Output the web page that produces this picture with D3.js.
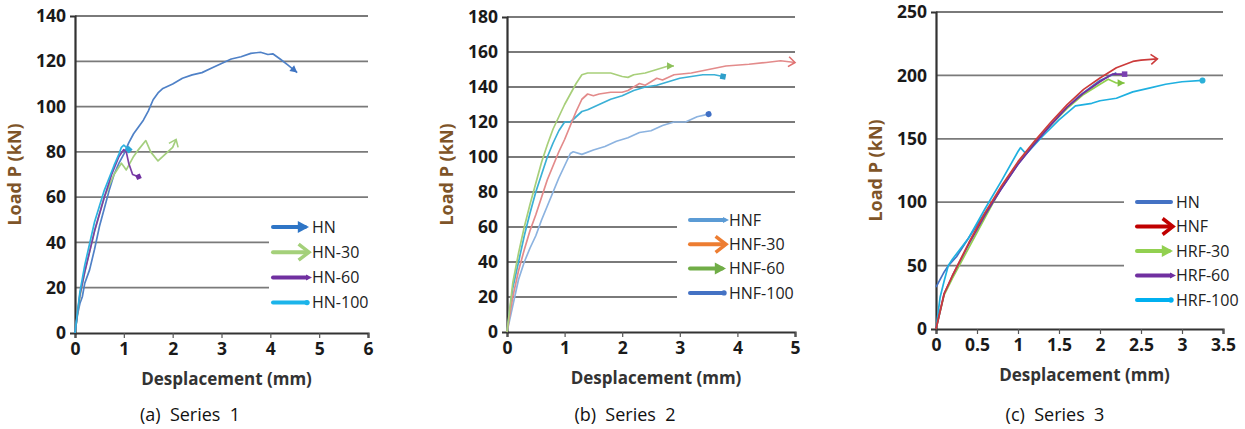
<!DOCTYPE html>
<html>
<head>
<meta charset="utf-8">
<script src="https://cdn.jsdelivr.net/npm/d3@7"></script>
<style>
  body { margin: 0; background: #fff; }
  svg text { font-family: "Open Sans", "DejaVu Sans", sans-serif; }
</style>
</head>
<body>
<svg id="canvas" width="1245" height="429"></svg>
<script>
// ---- data: [displacement mm, load kN] ----
let hn1 = [[0,0],[0.05,8],[0.1,13],[0.15,16],[0.2,22],[0.3,28],[0.4,37],[0.5,47],[0.6,55],[0.7,63],[0.8,70],[0.9,75],[1.0,79],[1.1,84],[1.2,88],[1.3,91],[1.4,94],[1.5,98],[1.6,103],[1.7,106],[1.8,108],[2.0,110],[2.2,112.5],[2.4,114],[2.6,115],[2.8,117],[3.0,119],[3.2,121],[3.4,122],[3.6,123.5],[3.8,124],[3.95,123],[4.05,123.3],[4.2,121],[4.35,118.5],[4.55,115]];
let hn30 = [[0,0],[0.1,16],[0.2,27],[0.4,45],[0.6,60],[0.8,70],[0.95,75],[1.0,73.5],[1.05,72],[1.2,78],[1.3,81],[1.45,85],[1.55,80],[1.7,76],[1.85,79],[2.0,82],[2.07,85.5]];
let hn60 = [[0,0],[0.1,17],[0.2,27],[0.4,45],[0.6,60],[0.75,70],[0.9,78],[1.0,81],[1.05,80],[1.1,75],[1.18,70],[1.3,69]];
let hn100 = [[0,0],[0.1,18],[0.2,30],[0.4,49],[0.6,63],[0.8,74],[0.9,79],[0.95,82],[1.0,83],[1.05,82],[1.1,81]];

let hnf = [[0,0],[0.1,25],[0.2,40],[0.3,55],[0.4,68],[0.5,80],[0.6,90],[0.7,100],[0.8,108],[0.9,115],[1.0,120],[1.1,120],[1.2,123],[1.3,126],[1.4,127],[1.6,130],[1.8,133],[2.0,135],[2.2,138],[2.4,140],[2.6,141],[2.8,143],[3.0,145],[3.2,146],[3.4,147],[3.6,147],[3.75,146]];
let hnf30 = [[0,0],[0.1,20],[0.2,35],[0.3,47],[0.4,58],[0.5,67],[0.6,77],[0.7,87],[0.8,95],[0.9,103],[1.0,110],[1.1,118],[1.2,126],[1.3,133],[1.4,136],[1.5,135],[1.6,136],[1.8,137],[2.0,137],[2.1,138],[2.2,140],[2.3,142],[2.4,141],[2.6,145],[2.7,144],[2.9,147],[3.2,148],[3.5,150],[3.8,152],[4.2,153],[4.5,154],[4.75,155],[5.0,154]];
let hnf60 = [[0,0],[0.1,28],[0.2,45],[0.3,60],[0.4,73],[0.5,85],[0.6,97],[0.7,107],[0.8,116],[0.9,123],[1.0,130],[1.1,136],[1.2,142],[1.3,147],[1.4,148],[1.6,148],[1.8,148],[2.0,146],[2.1,145.5],[2.2,147],[2.4,148],[2.6,150],[2.8,152],[2.9,152]];
let hnf100 = [[0,0],[0.1,15],[0.2,30],[0.3,40],[0.4,48],[0.5,55],[0.6,64],[0.7,72],[0.8,80],[0.9,88],[1.0,95],[1.1,102],[1.15,103],[1.3,101.5],[1.5,104],[1.7,106],[1.9,109],[2.1,111],[2.3,114],[2.5,115],[2.7,118],[2.9,120],[3.1,120],[3.3,123],[3.5,124.5]];

let hn3 = [[0,33],[0.1,45],[0.15,50],[0.25,57],[0.5,82],[0.75,106],[1.0,130],[1.25,150],[1.5,168],[1.75,184],[2.0,196],[2.2,202]];
let hnf3 = [[0,0],[0.1,28],[0.2,42],[0.4,68],[0.6,92],[0.8,113],[1.0,132],[1.2,148],[1.4,163],[1.6,177],[1.8,189],[2.0,198],[2.2,206],[2.4,211],[2.5,212],[2.7,213]];
let hrf30 = [[0,0],[0.1,27],[0.2,40],[0.4,64],[0.6,88],[0.8,112],[1.0,131],[1.2,147],[1.4,161],[1.6,174],[1.8,185],[2.0,193],[2.1,197],[2.2,194],[2.3,194]];
let hrf60 = [[0,0],[0.1,28],[0.2,42],[0.4,67],[0.6,90],[0.8,111],[1.0,130],[1.2,146],[1.4,161],[1.6,175],[1.8,186],[2.0,195],[2.15,201],[2.3,201]];
let hrf100 = [[0,0],[0.05,25],[0.1,38],[0.15,50],[0.2,55],[0.4,72],[0.6,95],[0.8,117],[1.0,140],[1.03,143],[1.1,138],[1.3,152],[1.5,165],[1.7,176],[1.9,178],[2.0,180],[2.2,182],[2.4,187],[2.6,190],[2.8,193],[3.0,195],[3.25,196]];

let ticks1x = [0,1,2,3,4,5,6];
let ticks1y = [0,20,40,60,80,100,120,140];
let ticks2x = [0,1,2,3,4,5];
let ticks2y = [0,20,40,60,80,100,120,140,160,180];
let ticks3x = [0,0.5,1,1.5,2,2.5,3,3.5];
let ticks3y = [0,50,100,150,200,250];

let names1 = ['HN','HN-30','HN-60','HN-100'];
let names2 = ['HNF','HNF-30','HNF-60','HNF-100'];
let names3 = ['HN','HNF','HRF-30','HRF-60','HRF-100'];
let captions = ['(a)  Series  1','(b)  Series  2','(c)  Series  3'];

let canvas = d3.select('#canvas');

let panels = [
  { x0: 75, x1: 368, yTop: 16, yBot: 333, xt: ticks1x, yt: ticks1y,
    legend: { x: 273, y: 227, step: 25.2, box: [269, 212, 99, 98] },
    series: [
      { data: hn1, color: '#4f81c7', end: 'arrow', endColor: '#3f74c2' },
      { data: hn30, color: '#a4cf7e', end: 'open', endColor: '#a4cf7e' },
      { data: hn60, color: '#7b3fa6', end: 'diamond', endColor: '#7030a0' },
      { data: hn100, color: '#2db3e0', end: 'square', endColor: '#2aa8d8' }
    ],
    keys: [
      { name: names1[0], color: '#2e75c6', mark: 'arrow' },
      { name: names1[1], color: '#a4d07a', mark: 'open' },
      { name: names1[2], color: '#7030a0', mark: 'smallarrow' },
      { name: names1[3], color: '#1cb4ea', mark: 'dot' }
    ], caption: captions[0], capX: 190 },
  { x0: 507, x1: 795, yTop: 17, yBot: 332, xt: ticks2x, yt: ticks2y,
    legend: { x: 690, y: 220, step: 24.3, box: [677, 203, 130, 105] },
    series: [
      { data: hnf100, color: '#8cb3e0', end: 'dot', endColor: '#3f6fc5' },
      { data: hnf, color: '#3bb0d6', end: 'square', endColor: '#2e9fca' },
      { data: hnf30, color: '#e38b8b', end: 'open', endColor: '#e07070' },
      { data: hnf60, color: '#a8cf7a', end: 'arrow', endColor: '#8dc05a' }
    ],
    keys: [
      { name: names2[0], color: '#5b9bd5', mark: 'smallarrow' },
      { name: names2[1], color: '#ed7d31', mark: 'open' },
      { name: names2[2], color: '#70ad47', mark: 'arrow' },
      { name: names2[3], color: '#4472c4', mark: 'dot' }
    ], caption: captions[1], capX: 625 },
  { x0: 936, x1: 1223, yTop: 12, yBot: 329, xt: ticks3x, yt: ticks3y,
    legend: { x: 1137, y: 202, step: 24.5, box: [1124, 186, 121, 128] },
    series: [
      { data: hn3, color: '#4472c4', end: null },
      { data: hrf100, color: '#1fb0e0', end: 'dot', endColor: '#2bb0d8' },
      { data: hrf30, color: '#92d050', end: 'arrow', endColor: '#7fc040' },
      { data: hrf60, color: '#7030a0', end: 'square', endColor: '#7a40b0' },
      { data: hnf3, color: '#cc3b3b', end: 'open', endColor: '#cc3b3b' }
    ],
    keys: [
      { name: names3[0], color: '#4472c4', mark: null },
      { name: names3[1], color: '#c00000', mark: 'open' },
      { name: names3[2], color: '#92d050', mark: 'arrow' },
      { name: names3[3], color: '#7030a0', mark: 'smallarrow' },
      { name: names3[4], color: '#00b0f0', mark: 'dot' }
    ], caption: captions[2], capX: 1055 }
];

let drawMark = (g, type, x, y, angle, color, size) => {
  let m = g.append('g').attr('transform', 'translate(' + x + ',' + y + ') rotate(' + angle + ')');
  if (type === 'arrow') {
    m.append('path').attr('d', 'M0,0 L' + (-size * 1.4) + ',' + (-size * 0.75) + ' L' + (-size * 1.4) + ',' + (size * 0.75) + 'Z').attr('fill', color);
  } else if (type === 'smallarrow') {
    m.append('path').attr('d', 'M1,0 L-5,-3 L-5,3Z').attr('fill', color);
  } else if (type === 'open') {
    m.append('path').attr('d', 'M' + (-size * 1.3) + ',' + (-size) + ' L0,0 L' + (-size * 1.3) + ',' + size)
      .attr('fill', 'none').attr('stroke', color).attr('stroke-width', size > 6 ? 3.5 : 1.6).attr('stroke-linejoin', 'miter');
  } else if (type === 'dot') {
    m.append('circle').attr('r', size * 0.6).attr('fill', color);
  } else if (type === 'square') {
    m.append('rect').attr('x', -size * 0.55).attr('y', -size * 0.55).attr('width', size * 1.1).attr('height', size * 1.1).attr('fill', color);
  } else if (type === 'diamond') {
    m.append('path').attr('d', 'M0,' + (-size * 0.7) + ' L' + (size * 0.7) + ',0 L0,' + (size * 0.7) + ' L' + (-size * 0.7) + ',0Z').attr('fill', color);
  }
};

panels.forEach(p => {
  let x = d3.scaleLinear().domain([p.xt[0], p.xt[p.xt.length - 1]]).range([p.x0, p.x1]);
  let y = d3.scaleLinear().domain([p.yt[0], p.yt[p.yt.length - 1]]).range([p.yBot, p.yTop]);
  let g = canvas.append('g');

  // gridlines
  g.selectAll('line.grid').data(p.yt.slice(1)).enter().append('line')
    .attr('x1', p.x0).attr('x2', p.x1)
    .attr('y1', d => y(d)).attr('y2', d => y(d))
    .attr('stroke', '#7a7a7a').attr('stroke-width', 1.8);

  // legend background hides part of the grid
  let b = p.legend.box;
  g.append('rect').attr('x', b[0]).attr('y', b[1]).attr('width', b[2]).attr('height', b[3]).attr('fill', '#fff');

  // axes
  let xAxis = d3.axisBottom(x).tickValues(p.xt).tickSize(5).tickPadding(5)
    .tickFormat(d => String(d));
  let yAxis = d3.axisLeft(y).tickValues(p.yt).tickSize(5).tickPadding(4);
  let gx = g.append('g').attr('transform', 'translate(0,' + p.yBot + ')').call(xAxis);
  let gy = g.append('g').attr('transform', 'translate(' + p.x0 + ',0)').call(yAxis);
  [gx, gy].forEach(a => {
    a.select('.domain').attr('stroke', '#333').attr('stroke-width', 2.2);
    a.selectAll('.tick line').attr('stroke', '#555').attr('stroke-width', 1.2);
    a.selectAll('.tick text').attr('fill', '#1a1a1a').style('font-size', '17.5px').style('font-weight', 700);
  });
  gy.selectAll('.tick line').remove();

  // curves
  let line = d3.line().x(d => x(d[0])).y(d => y(d[1]));
  p.series.forEach(s => {
    g.append('path').datum(s.data).attr('d', line)
      .attr('fill', 'none').attr('stroke', s.color).attr('stroke-width', 1.7).attr('stroke-linejoin', 'round');
    if (s.end) {
      let n = s.data.length;
      let a = s.data[n - 2], e = s.data[n - 1];
      let ang = Math.atan2(y(e[1]) - y(a[1]), x(e[0]) - x(a[0])) * 180 / Math.PI;
      drawMark(g, s.end, x(e[0]), y(e[1]), ang, s.endColor, 5);
    }
  });

  // legend
  p.keys.forEach((k, i) => {
    let ly = p.legend.y + i * p.legend.step;
    let lx = p.legend.x;
    let big = k.mark === 'open' || k.mark === 'arrow';
    let end = lx + (big ? 32 : 34);
    g.append('line').attr('x1', lx).attr('x2', end).attr('y1', ly).attr('y2', ly)
      .attr('stroke', k.color).attr('stroke-width', 4).attr('stroke-linecap', 'round');
    if (k.mark) drawMark(g, k.mark, end + (k.mark === 'dot' ? 0 : 4), ly, 0, k.color, big ? 8 : 4.5);
    g.append('text').attr('x', lx + 39).attr('y', ly).attr('dy', '0.36em')
      .attr('fill', '#222').style('font-size', '16px').text(k.name);
  });

  // axis titles
  g.append('text').attr('transform', 'translate(' + (p.x0 - 54) + ',' + ((p.yTop + p.yBot) / 2) + ') rotate(-90)')
    .attr('text-anchor', 'middle').attr('fill', '#7e5428').style('font-size', '18px').style('font-weight', 700)
    .text('Load P (kN)');
  g.append('text').attr('x', (p.x0 + p.x1) / 2 + 5).attr('y', p.yBot + 52)
    .attr('text-anchor', 'middle').attr('fill', '#333').style('font-size', '17px').style('font-weight', 700)
    .text('Desplacement (mm)');

  // caption
  g.append('text').attr('x', p.capX).attr('y', 421).attr('text-anchor', 'middle')
    .attr('fill', '#111').style('font-size', '18px').style('white-space', 'pre').attr('xml:space', 'preserve')
    .text(p.caption);
});
</script>
</body>
</html>
